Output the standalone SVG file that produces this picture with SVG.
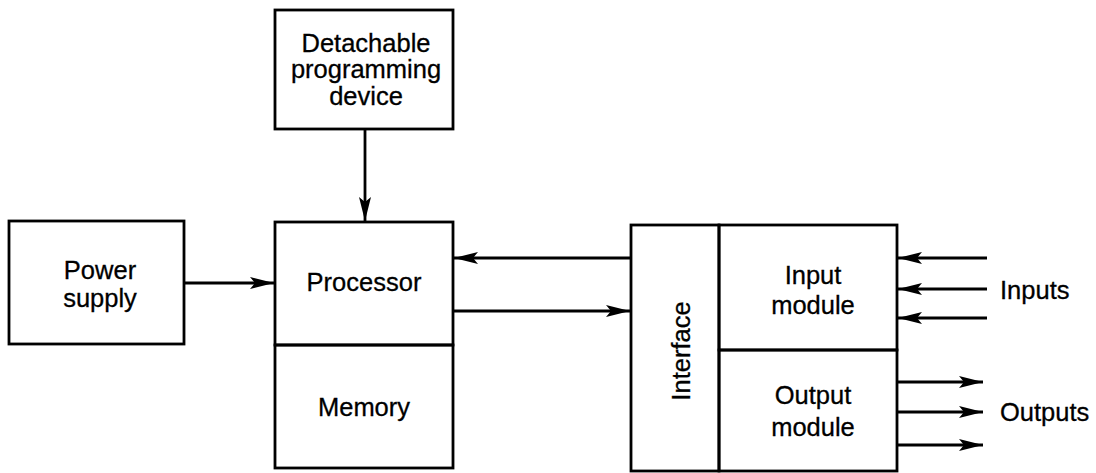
<svg xmlns="http://www.w3.org/2000/svg" width="1096" height="473" viewBox="0 0 1096 473">
<style>
.box{fill:none;stroke:#000;stroke-width:2.8}
.ln{fill:none;stroke:#000;stroke-width:2.8}
text{font-family:"Liberation Sans",Arial,sans-serif;font-size:25.5px;fill:#000;text-anchor:middle;dominant-baseline:central;stroke:#000;stroke-width:0.3}
.l{text-anchor:start}
</style>
<defs>
<marker id="ah" markerUnits="userSpaceOnUse" markerWidth="26" markerHeight="16" refX="24" refY="8" orient="auto">
<path d="M0,2 L24,8 L0,14 L5,8 Z" fill="#000"/>
</marker>
</defs>
<rect width="1096" height="473" fill="#fff"/>
<g id="detachable">
<rect class="box" x="275" y="10" width="178" height="119"/>
<text x="366" y="43">Detachable</text>
<text x="366" y="69">programming</text>
<text x="366" y="96">device</text>
</g>
<g id="power">
<rect class="box" x="9" y="221" width="175" height="123"/>
<text x="100" y="270">Power</text>
<text x="100" y="298">supply</text>
</g>
<g id="processor">
<rect class="box" x="275" y="222" width="178" height="123"/>
<text x="364" y="282">Processor</text>
</g>
<g id="memory">
<rect class="box" x="275" y="345" width="178" height="123"/>
<text x="364" y="407">Memory</text>
</g>
<g id="interface">
<rect class="box" x="631" y="225" width="88" height="246"/>
<text x="681" y="351" transform="rotate(-90 681 351)">Interface</text>
</g>
<g id="input">
<rect class="box" x="719" y="225" width="178" height="125"/>
<text x="813" y="275">Input</text>
<text x="813" y="305">module</text>
</g>
<g id="output">
<rect class="box" x="719" y="350" width="178" height="121"/>
<text x="813" y="395">Output</text>
<text x="813" y="427">module</text>
</g>
<g id="labels">
<text class="l" x="1000" y="290">Inputs</text>
<text class="l" x="1000" y="412">Outputs</text>
</g>
<g id="connectors">
<line class="ln" x1="365" y1="129" x2="365" y2="221" marker-end="url(#ah)"/>
<line class="ln" x1="184" y1="283" x2="274" y2="283" marker-end="url(#ah)"/>
<line class="ln" x1="631" y1="258" x2="454" y2="258" marker-end="url(#ah)"/>
<line class="ln" x1="453" y1="311" x2="630" y2="311" marker-end="url(#ah)"/>
<line class="ln" x1="987" y1="258" x2="898" y2="258" marker-end="url(#ah)"/>
<line class="ln" x1="987" y1="289" x2="898" y2="289" marker-end="url(#ah)"/>
<line class="ln" x1="987" y1="318" x2="898" y2="318" marker-end="url(#ah)"/>
<line class="ln" x1="897" y1="382" x2="983" y2="382" marker-end="url(#ah)"/>
<line class="ln" x1="897" y1="412" x2="983" y2="412" marker-end="url(#ah)"/>
<line class="ln" x1="897" y1="445" x2="983" y2="445" marker-end="url(#ah)"/>
</g>
</svg>
